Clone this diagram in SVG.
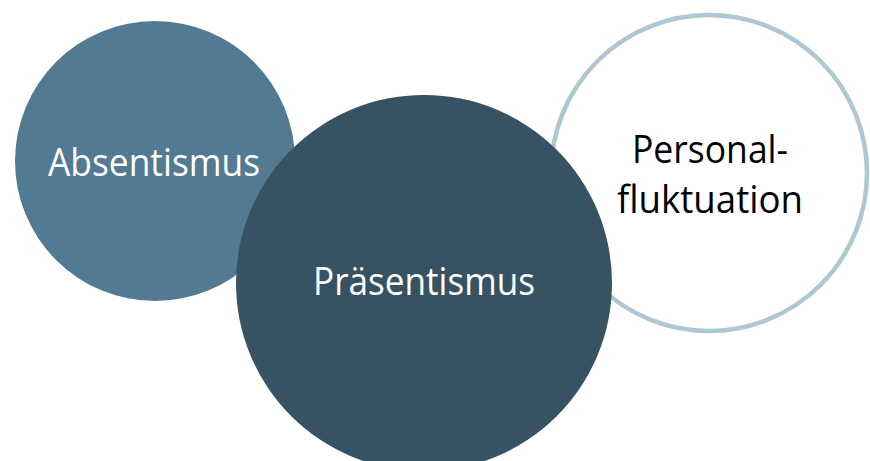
<svg xmlns="http://www.w3.org/2000/svg" width="870" height="461" viewBox="0 0 870 461">
<style>
text{font-family:"Open Sans","Noto Sans","DejaVu Sans",sans-serif;font-size:38px;text-anchor:middle}
.w{fill:#ffffff}
.k{fill:#000000}
</style>
<rect width="870" height="461" fill="#ffffff"/>
<g id="personalfluktuation">
<circle cx="709" cy="173" r="158" fill="#ffffff" stroke="#AFC6D3" stroke-width="4.5"/>
<text class="k" x="710" y="163" textLength="156" lengthAdjust="spacingAndGlyphs">Personal-</text>
<text class="k" x="710" y="213" textLength="186" lengthAdjust="spacingAndGlyphs">fluktuation</text>
</g>
<g id="absentismus">
<circle cx="155" cy="161" r="140" fill="#527A93"/>
<text class="w" x="154" y="176" textLength="212" lengthAdjust="spacingAndGlyphs">Absentismus</text>
</g>
<g id="praesentismus">
<circle cx="424" cy="283" r="188" fill="#375263"/>
<text class="w" x="424" y="295" textLength="222" lengthAdjust="spacingAndGlyphs">Präsentismus</text>
</g>
<g id="connectors"></g>
</svg>
